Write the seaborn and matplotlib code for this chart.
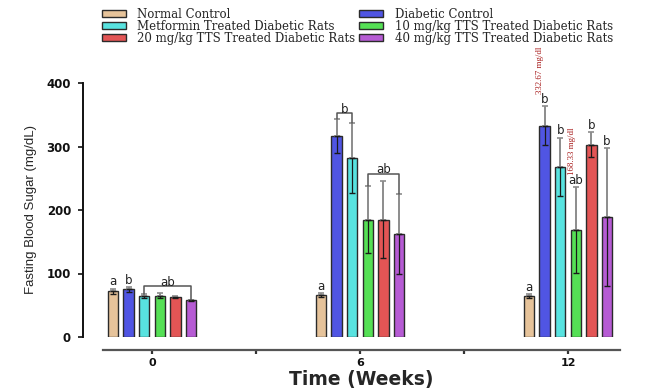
import matplotlib
matplotlib.use("Agg")
import matplotlib.pyplot as plt
from matplotlib.patches import Patch
import seaborn as sns
import pandas as pd

# data (mean +- SD, mg/dL)
weeks = [0, 6, 12]
groups = ["Normal Control",
          "Diabetic Control",
          "Metformin Treated Diabetic Rats",
          "10 mg/kg TTS Treated Diabetic Rats",
          "20 mg/kg TTS Treated Diabetic Rats",
          "40 mg/kg TTS Treated Diabetic Rats"]
colors = ["#E6C39A", "#5055E3", "#58E3E0", "#55E055", "#E35555", "#B65BD4"]

normal = [72, 66, 65]
diabetic = [75, 316, 332.67]
metformin = [64, 282, 268]
tts10 = [65, 185, 168.33]
tts20 = [63.5, 185, 303]
tts40 = [58, 162, 189]

normal_sd = [4, 3, 3]
diabetic_sd = [4, 27, 31]
metformin_sd = [3, 55, 46]
tts10_sd = [4, 53, 68]
tts20_sd = [1.5, 60, 20]
tts40_sd = [1, 63, 108]

# significance letters above single bars (per group, per week)
letters = [["a", "a", "a"],
           ["b", "", "b"],
           ["", "", "b"],
           ["", "", "ab"],
           ["", "", "b"],
           ["", "", "b"]]
# brackets: (week index, first group, last group, label, height)
brackets = [(0, 2, 5, "ab", 80), (1, 1, 2, "b", 352), (1, 3, 5, "ab", 257)]
# value labels in red: (week index, group)
value_labels = [(2, 1), (2, 3)]

means = [normal, diabetic, metformin, tts10, tts20, tts40]
sds = [normal_sd, diabetic_sd, metformin_sd, tts10_sd, tts20_sd, tts40_sd]

rows = []
for g, vals in zip(groups, means):
    for w, v in zip(weeks, vals):
        rows.append({"week": w, "group": g, "mean": v})
df = pd.DataFrame(rows)

sns.set_style("white")
fig = plt.figure(figsize=(6.47, 3.92), dpi=100)
ax = fig.add_axes([103 / 647, 55 / 392, 517 / 647, 254 / 392])

sns.barplot(data=df, x="week", y="mean", hue="group", hue_order=groups,
            palette=colors, native_scale=True, width=0.45, gap=0.33,
            errorbar=None, saturation=1, edgecolor="#2b2b2b", linewidth=1,
            legend=False, ax=ax)

bar_conts = list(ax.containers)
centers = []
for i, cont in enumerate(bar_conts):
    cx = [b.get_x() + b.get_width() / 2 for b in cont]
    centers.append(cx)
    # upper half of error bar grey, lower half dark
    ax.errorbar(cx, means[i], yerr=[[0] * 3, sds[i]], fmt="none",
                ecolor="#8c8c8c", elinewidth=1.4, capsize=2.5, capthick=1.2,
                zorder=3, clip_on=False)
    ax.errorbar(cx, means[i], yerr=[sds[i], [0] * 3], fmt="none",
                ecolor="#1a1a1a", elinewidth=0.9, capsize=2.5, capthick=1,
                zorder=3)
    for k in range(3):
        if letters[i][k]:
            ax.text(cx[k], means[i][k] + sds[i][k] + 0.5, letters[i][k],
                    ha="center", va="bottom", fontsize=8.5, color="#222222",
                    zorder=4)

for k, g0, g1, lab, h in brackets:
    x0, x1 = centers[g0][k], centers[g1][k]
    t0 = means[g0][k] + sds[g0][k]
    t1 = means[g1][k] + sds[g1][k]
    ax.plot([x0, x0, x1, x1], [t0, h, h, t1], color="#555555", lw=1.1,
            zorder=3)
    ax.text((x0 + x1) / 2, h - 4, lab, ha="center", va="bottom",
            fontsize=8.5, color="#222222", zorder=4)

for k, g in value_labels:
    top = means[g][k] + sds[g][k]
    ax.text(centers[g][k] - 0.12, top + 19, f"{means[g][k]:.2f} mg/dl",
            rotation=90, ha="center", va="bottom", color="#A81C1C",
            fontsize=6.4, family=["Liberation Serif", "DejaVu Serif"],
            clip_on=False, zorder=5)

ax.set_xlim(-1.413, 13.5)
ax.set_ylim(0, 400)
ax.set_xticks([0, 3, 6, 9, 12])
ax.set_xticklabels(["0", "", "6", "", "12"])
ax.set_yticks([0, 100, 200, 300, 400])

for s in ["top", "right"]:
    ax.spines[s].set_visible(False)
ax.spines["left"].set_position(("outward", 14.4))
ax.spines["left"].set_bounds(0, 400)
ax.spines["left"].set_linewidth(1.4)
ax.spines["left"].set_color("#111111")
ax.spines["bottom"].set_position(("outward", 9.4))
ax.spines["bottom"].set_linewidth(1.6)
ax.spines["bottom"].set_color("#555555")

ax.tick_params(axis="y", direction="out", length=3.6, width=1.2,
               color="#111111", left=True, pad=5)
ax.tick_params(axis="x", direction="out", length=3, width=1.6,
               color="#333333", bottom=True, pad=3)
for t in ax.get_yticklabels():
    t.set_fontweight("bold")
    t.set_fontsize(8.5)
    t.set_color("#111111")
for t in ax.get_xticklabels():
    t.set_fontweight("bold")
    t.set_fontsize(8)
    t.set_color("#111111")

ax.set_ylabel("Fasting Blood Sugar (mg/dL)", fontsize=9.5,
              family=["Liberation Sans", "DejaVu Sans"])
ax.yaxis.set_label_coords(-0.128, 0.5)
ax.set_xlabel("Time (Weeks)", fontsize=13.5, fontweight="bold")
ax.xaxis.set_label_coords(0.5, -0.13)

order = [0, 2, 4, 1, 3, 5]
handles = [Patch(facecolor=colors[i], edgecolor="#2b2b2b", linewidth=1)
           for i in order]
labels = [groups[i] for i in order]
fig.legend(handles, labels, ncol=2, loc="upper left",
           bbox_to_anchor=(102 / 647, 1 - 8 / 392), frameon=False,
           prop={"family": "DejaVu Serif", "size": 8.5},
           handlelength=2.0, handleheight=0.5, handletextpad=1.0,
           labelspacing=-0.1, columnspacing=0.3, borderpad=0,
           borderaxespad=0)

fig.savefig("out.png", dpi=100)
